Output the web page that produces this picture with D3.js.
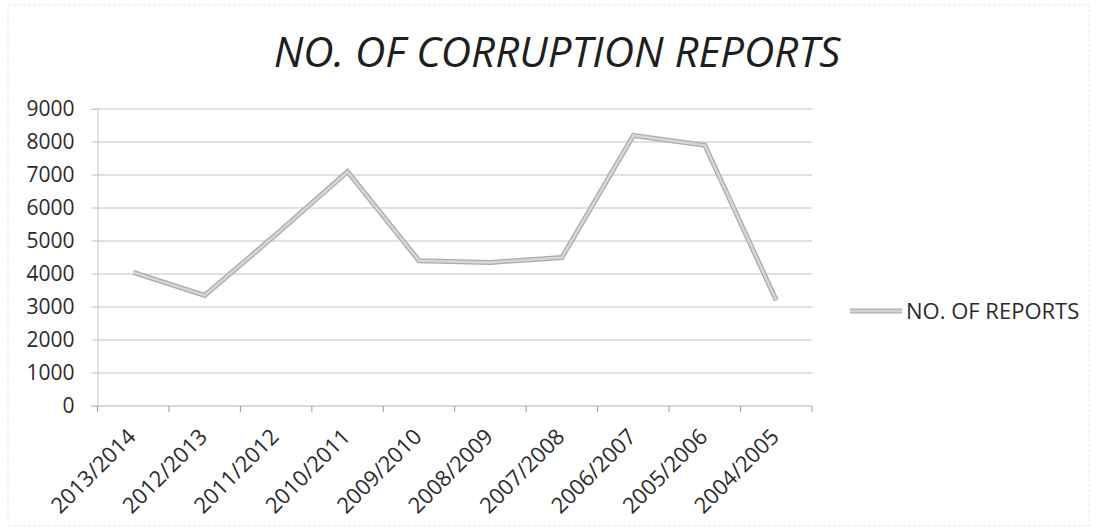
<!DOCTYPE html>
<html>
<head>
<meta charset="utf-8">
<script src="https://cdn.jsdelivr.net/npm/d3@7"></script>
<style>
  body { margin: 0; background: #fff; }
  text { font-family: "Open Sans", sans-serif; fill: #2b2b2b; }
</style>
</head>
<body>
<svg id="chart"></svg>
<script>
// data
const years = ["2013/2014", "2012/2013", "2011/2012", "2010/2011", "2009/2010",
               "2008/2009", "2007/2008", "2006/2007", "2005/2006", "2004/2005"];
const reports = [4050, 3350, 5200, 7100, 4400, 4350, 4500, 8200, 7900, 3200];
const yTicks = [0, 1000, 2000, 3000, 4000, 5000, 6000, 7000, 8000, 9000];
const seriesName = "NO. OF REPORTS";
const title = "NO. OF CORRUPTION REPORTS";

const width = 1097;
const height = 531;
const margin = { top: 109, right: 285, bottom: 125, left: 97.5 };

const svg = d3.select("#chart").attr("width", width).attr("height", height);

// faint outer border like the scanned chart frame
svg.append("rect")
  .attr("x", 8).attr("y", 5)
  .attr("width", width - 16).attr("height", height - 10)
  .attr("fill", "none")
  .attr("stroke", "#e6e6e6")
  .attr("stroke-dasharray", "3,2");

const x = d3.scaleBand()
  .domain(years)
  .range([margin.left, width - margin.right]);

const y = d3.scaleLinear()
  .domain([0, 9000])
  .range([height - margin.bottom, margin.top]);

// title
svg.append("text")
  .attr("x", 557)
  .attr("y", 67)
  .attr("text-anchor", "middle")
  .style("font-size", "42px")
  .style("font-style", "italic")
  .style("fill", "#1e1e1e")
  .text(title);

// gridlines (they run a little past the axis, like tick marks)
svg.append("g")
  .selectAll("line")
  .data(yTicks)
  .join("line")
  .attr("x1", margin.left - 6)
  .attr("x2", width - margin.right)
  .attr("y1", d => y(d))
  .attr("y2", d => y(d))
  .attr("stroke", d => d === 0 ? "#b0b0b0" : "#c2c2c2")
  .attr("stroke-width", 1);

// y axis
const yAxis = svg.append("g")
  .attr("transform", `translate(${margin.left},0)`)
  .call(d3.axisLeft(y).tickValues(yTicks).tickFormat(d3.format("d")).tickSize(6).tickPadding(17));
yAxis.select(".domain").attr("stroke", "#c8c8c8");
yAxis.selectAll(".tick line").attr("stroke", "none");
yAxis.selectAll("text").style("font-size", "21px").style("fill", "#2b2b2b");

// x axis ticks at band edges
const xAxisG = svg.append("g")
  .attr("transform", `translate(0,${y(0)})`);
xAxisG.selectAll("line.tick")
  .data(years.concat(["end"]))
  .join("line")
  .attr("class", "tick")
  .attr("x1", (d, i) => margin.left + i * x.bandwidth())
  .attr("x2", (d, i) => margin.left + i * x.bandwidth())
  .attr("y1", 0).attr("y2", 6)
  .attr("stroke", "#9a9a9a");
xAxisG.selectAll("text")
  .data(years)
  .join("text")
  .attr("transform", d => `translate(${x(d) + x.bandwidth() / 2 + 4},32) rotate(-45)`)
  .attr("text-anchor", "end")
  .style("font-size", "22px")
  .text(d => d);

// the series line: darker edge with a lighter core
const line = d3.line()
  .x((d, i) => x(years[i]) + x.bandwidth() / 2)
  .y(d => y(d));

svg.append("path")
  .datum(reports)
  .attr("d", line)
  .attr("fill", "none")
  .attr("stroke", "#acacac")
  .attr("stroke-width", 5)
  .attr("stroke-linejoin", "miter");
svg.append("path")
  .datum(reports)
  .attr("d", line)
  .attr("fill", "none")
  .attr("stroke", "#d6d6d6")
  .attr("stroke-width", 2.5)
  .attr("stroke-linejoin", "miter");

// legend
const legend = svg.append("g").attr("transform", "translate(850,311)");
legend.append("line")
  .attr("x1", 0).attr("x2", 52)
  .attr("stroke", "#acacac").attr("stroke-width", 5);
legend.append("line")
  .attr("x1", 0).attr("x2", 52)
  .attr("stroke", "#d6d6d6").attr("stroke-width", 2.5);
legend.append("text")
  .attr("x", 56)
  .attr("dy", "0.35em")
  .style("font-size", "22px")
  .text(seriesName);
</script>
</body>
</html>
